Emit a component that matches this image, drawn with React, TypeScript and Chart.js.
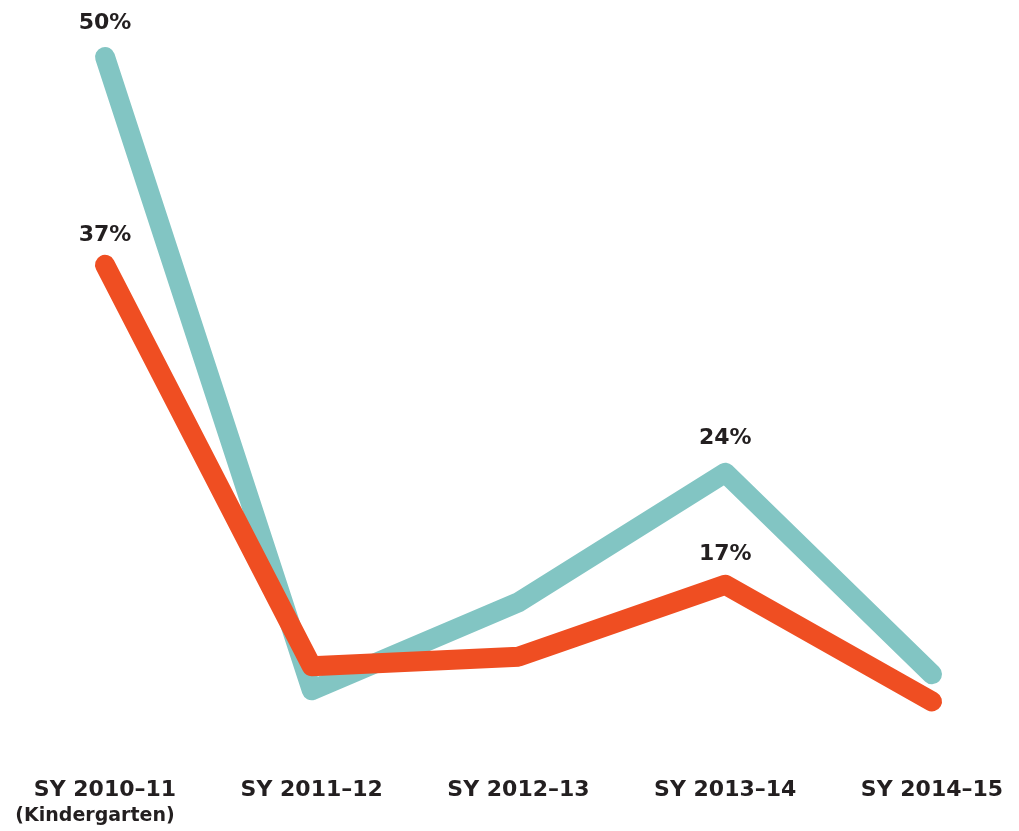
import React, { useEffect, useRef } from "react";
import { Chart, registerables } from "chart.js";

Chart.register(...registerables);

const categories = ["SY 2010–11", "SY 2011–12", "SY 2012–13", "SY 2013–14", "SY 2014–15"];
const firstSubLabel = "(Kindergarten)";
const tealValues = [50, 10.4, 15.9, 24, 11.4];
const orangeValues = [37, 11.9, 12.5, 17, 9.7];
const labeledIndices = [0, 3];

const TEAL = "#82C5C3";
const ORANGE = "#EF4E22";
const TEXT = "#231F20";
const FONT = "'DejaVu Sans', sans-serif";

export default function App() {
  const ref = useRef<HTMLCanvasElement | null>(null);

  useEffect(() => {
    if (!ref.current) return;
    const labelPlugin = {
      id: "valueLabels",
      afterDatasetsDraw(chart: any) {
        const ctx = chart.ctx;
        ctx.save();
        ctx.fillStyle = TEXT;
        ctx.font = `bold 22px ${FONT}`;
        ctx.textAlign = "center";
        ctx.textBaseline = "middle";
        chart.data.datasets.forEach((ds: any, di: number) => {
          const meta = chart.getDatasetMeta(di);
          labeledIndices.forEach((i) => {
            const pt = meta.data[i];
            if (!pt) return;
            const off = di === 0 ? 30 : 34;
            ctx.fillText(`${ds.data[i]}%`, pt.x, pt.y - off);
          });
        });
        const xs = chart.scales.x;
        const x0 = xs.getPixelForValue(0);
        ctx.font = `bold 19px ${FONT}`;
        ctx.fillText(firstSubLabel, x0 - 10, xs.bottom + 13);
        ctx.restore();
      },
    };

    const chart = new Chart(ref.current, {
      type: "line",
      data: {
        labels: categories,
        datasets: [
          {
            label: "Orange",
            data: orangeValues,
            borderColor: ORANGE,
            backgroundColor: ORANGE,
            borderWidth: 20,
            borderCapStyle: "round",
            borderJoinStyle: "round",
            pointRadius: 0,
            tension: 0,
            clip: false as any,
          },
          {
            label: "Teal",
            data: tealValues,
            borderColor: TEAL,
            backgroundColor: TEAL,
            borderWidth: 20,
            borderCapStyle: "round",
            borderJoinStyle: "round",
            pointRadius: 0,
            tension: 0,
            clip: false as any,
          },
        ],
      },
      options: {
        animation: false,
        responsive: true,
        maintainAspectRatio: false,
        layout: { padding: { left: 105, right: 87, top: 9, bottom: 28 } },
        plugins: {
          legend: { display: false },
          tooltip: { enabled: false },
        },
        scales: {
          x: {
            offset: false,
            grid: { display: false, drawTicks: false },
            border: { display: false },
            ticks: {
              color: TEXT,
              font: { family: FONT, size: 22, weight: "bold" },
              padding: 0,
              maxRotation: 0,
              autoSkip: false,
            },
          },
          y: {
            display: false,
            min: 5,
            max: 53,
          },
        },
      },
      plugins: [labelPlugin],
    });
    return () => chart.destroy();
  }, []);

  return (
    <div style={{ position: "absolute", left: 0, top: 0, width: 1019, height: 831, background: "#fff" }}>
      <canvas ref={ref} />
    </div>
  );
}
